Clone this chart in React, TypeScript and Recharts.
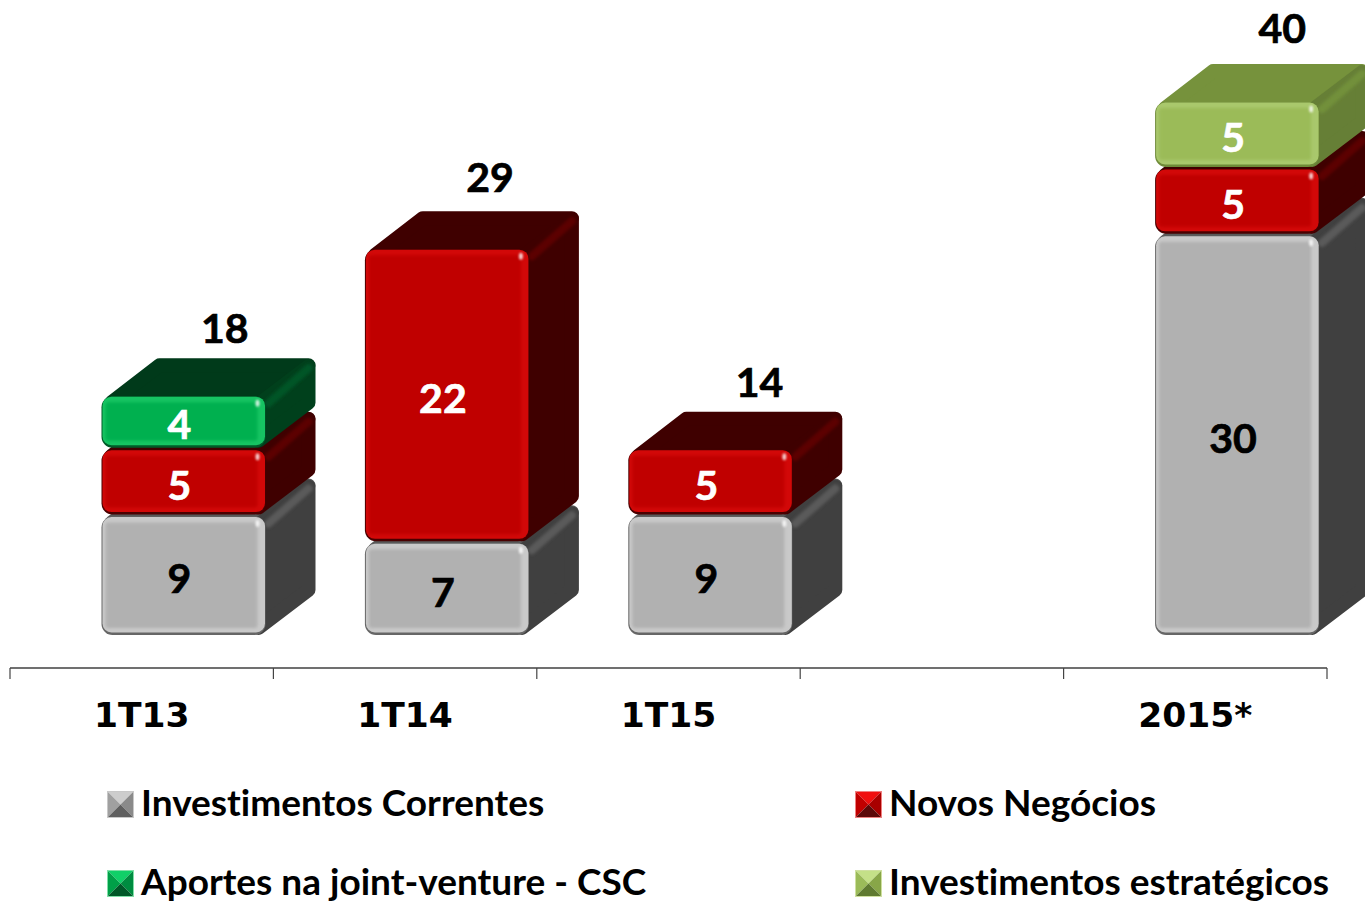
import React from "react";
import { ComposedChart, Bar, Line, XAxis, YAxis, Legend, LabelList } from "recharts";

const categories = ["1T13", "1T14", "1T15", "", "2015*"];
const correntes = [9, 7, 9, null, 30];
const novos = [5, 22, 5, null, 5];
const aportes = [4, null, null, null, null];
const estrategicos = [null, null, null, null, 5];
const totals = [18, 29, 14, null, 40];

const chartData = categories.map((name, i) => ({
  name,
  correntes: correntes[i],
  novos: novos[i],
  aportes: aportes[i],
  estrategicos: estrategicos[i],
  total: totals[i],
}));

const GRAY = { front: "#b1b1b1", light: "#c9c9c9", dark: "#666666", top: "#595959", side: "#404040", sideLight: "#5a5a5a", text: "#000", border: "#c8c8c8", swatch: ["#cdcdcd", "#a0a0a0", "#8a8a8a", "#5f5f5f"] };
const RED = { front: "#c00000", light: "#d20808", dark: "#4a0000", top: "#3f0000", side: "#3f0000", sideLight: "#5c0000", text: "#fff", border: "#f08080", swatch: ["#f01010", "#c00000", "#a80000", "#5c0808"] };
const GREEN = { front: "#00b050", light: "#16c462", dark: "#005a28", top: "#003a1a", side: "#00401c", sideLight: "#005426", text: "#fff", border: "#80e0a8", swatch: ["#10d068", "#00a048", "#008c40", "#005828"] };
const OLIVE = { front: "#9bbb59", light: "#a9c86c", dark: "#6e8a38", top: "#76923c", side: "#667f36", sideLight: "#72903a", text: "#fff", border: "#cfe0a0", swatch: ["#c4e088", "#9bbb59", "#88a648", "#5f7a30"] };

// the boxes sit right of the band centre, depth goes up and to the right
const SHIFT = 41.5;
const DEPTH_X = 50;
const DEPTH_Y = 38;
const LABEL_FONT = "Lato, 'Open Sans', sans-serif";
const TICK_FONT = "'DejaVu Sans', sans-serif";

const box = (c: typeof GRAY) => (props: any) => {
  const { x, y, width, height } = props;
  if (!height || height <= 0) return null;
  const l = x + SHIFT;
  const r = l + width;
  const t = y + 1;
  const b = y + height - 1;
  return (
    <g>
      <polygon
        points={`${l + 10},${t + 6} ${l + DEPTH_X + 8},${t - DEPTH_Y + 7} ${r + DEPTH_X - 7},${t - DEPTH_Y + 7} ${r - 4},${t + 6}`}
        fill={c.top}
        stroke={c.top}
        strokeWidth={14}
        strokeLinejoin="round"
      />
      <polygon
        points={`${r - 7},${t + 8} ${r + DEPTH_X - 7},${t - DEPTH_Y + 8} ${r + DEPTH_X - 7},${b - DEPTH_Y - 7} ${r - 7},${b - 7}`}
        fill={c.side}
        stroke={c.side}
        strokeWidth={14}
        strokeLinejoin="round"
      />
      <line
        x1={r + 3}
        y1={t + 7}
        x2={r + DEPTH_X - 7}
        y2={t - DEPTH_Y + 10}
        stroke={c.sideLight}
        strokeWidth={8}
        strokeLinecap="round"
        filter="url(#soft)"
      />
      <rect x={l} y={t} width={width} height={b - t} rx={11} fill={c.dark} />
      <rect x={l + 1} y={t + 0.5} width={width - 1.5} height={b - t - 3} rx={9} fill={c.light} />
      <rect x={l + 4} y={t + 6} width={width - 12} height={b - t - 13} rx={3} fill={c.front} filter="url(#soft)" />
      <ellipse cx={r - 8} cy={t + 7} rx={2} ry={3.5} fill="#fff" opacity={0.8} filter="url(#softer)" />
    </g>
  );
};

const valueLabel = (c: typeof GRAY) => (props: any) => {
  const { x, y, width, height, value } = props;
  if (value === null || value === undefined) return null;
  return (
    <text
      x={x + width / 2 + SHIFT - 4}
      y={y + height / 2 + 2}
      textAnchor="middle"
      dominantBaseline="central"
      fontFamily={LABEL_FONT}
      fontWeight={700}
      fontSize={41}
      fill={c.text}
      stroke={c.text}
      strokeWidth={0.7}
    >
      {value}
    </text>
  );
};

// the totals float a little unevenly over the boxes
const totalNudge: Record<number, [number, number]> = {
  18: [83, -68],
  29: [85, -72],
  14: [91, -67],
  40: [87, -74],
};

const TotalLabel = (props: any) => {
  const { x, y, value } = props;
  if (value === null || value === undefined) return null;
  const [dx, dy] = totalNudge[value] || [87, -68];
  return (
    <text
      x={x + dx}
      y={y + dy}
      textAnchor="middle"
      dominantBaseline="central"
      fontFamily={LABEL_FONT}
      fontWeight={700}
      fontSize={41}
      fill="#000"
      stroke="#000"
      strokeWidth={0.7}
    >
      {value}
    </text>
  );
};

const BAND = 263.4;

const BoundaryTick = (props: any) => {
  const { x, payload, index } = props;
  const left = x - BAND / 2;
  return (
    <g>
      <line x1={left} y1={668} x2={left} y2={679} stroke="#444" strokeWidth={1.2} />
      {index === categories.length - 1 && (
        <line x1={left + BAND} y1={668} x2={left + BAND} y2={679} stroke="#444" strokeWidth={1.2} />
      )}
      <text
        x={x}
        y={715}
        textAnchor="middle"
        dominantBaseline="central"
        fontFamily={TICK_FONT}
        fontWeight={700}
        fontSize={34.5}
        fill="#000"
      >
        {payload.value}
      </text>
    </g>
  );
};

const Swatch = ({ c }: { c: typeof GRAY }) => (
  <svg width={27} height={27} style={{ position: "absolute", left: 0, top: 0 }}>
    <polygon points="1,1 26,1 13.5,13.5" fill={c.swatch[0]} />
    <polygon points="1,1 1,26 13.5,13.5" fill={c.swatch[1]} />
    <polygon points="26,1 26,26 13.5,13.5" fill={c.swatch[2]} />
    <polygon points="1,26 26,26 13.5,13.5" fill={c.swatch[3]} />
    <rect x={0.5} y={0.5} width={26} height={26} fill="none" stroke={c.border} strokeWidth={1} />
  </svg>
);

const legendSpots: Record<string, { left: number; top: number; c: typeof GRAY }> = {
  "Investimentos Correntes": { left: 107, top: 791, c: GRAY },
  "Novos Negócios": { left: 855, top: 791, c: RED },
  "Aportes na joint-venture - CSC": { left: 107, top: 870, c: GREEN },
  "Investimentos estratégicos": { left: 855, top: 870, c: OLIVE },
};

const GridLegend = ({ payload }: any) => (
  <div style={{ position: "relative", width: 0, height: 0 }}>
    {(payload || [])
      .filter((item: any) => legendSpots[item.value])
      .map((item: any) => {
        const spot = legendSpots[item.value];
        return (
          <div key={item.value} style={{ position: "absolute", left: spot.left, top: spot.top }}>
            <Swatch c={spot.c} />
            <span
              style={{
                position: "absolute",
                left: 34,
                top: -10,
                lineHeight: "42px",
                whiteSpace: "nowrap",
                fontFamily: LABEL_FONT,
                fontVariantLigatures: "none",
                fontWeight: 700,
                fontSize: 37,
                color: "#000",
              }}
            >
              {item.value}
            </span>
          </div>
        );
      })}
  </div>
);

export default function App() {
  return (
    <div style={{ position: "absolute", left: 0, top: 0, width: 1365, height: 904, overflow: "hidden", background: "#fff" }}>
      <ComposedChart
        width={1365}
        height={904}
        data={chartData}
        margin={{ top: 0, right: 38, bottom: 176, left: 10 }}
        barSize={164}
      >
        <defs>
          <filter id="soft" x="-20%" y="-20%" width="140%" height="140%">
            <feGaussianBlur stdDeviation="1.6" />
          </filter>
          <filter id="softer" x="-100%" y="-100%" width="300%" height="300%">
            <feGaussianBlur stdDeviation="0.8" />
          </filter>
        </defs>
        <XAxis
          dataKey="name"
          height={60}
          interval={0}
          tickLine={false}
          axisLine={{ stroke: "#404040", strokeWidth: 1.5 }}
          tick={<BoundaryTick />}
        />
        <YAxis hide domain={[-2.4, 47.56]} allowDataOverflow />
        <Legend
          content={<GridLegend />}
          wrapperStyle={{ left: 0, top: 0, width: 0, height: 0 }}
        />
        <Bar dataKey="correntes" name="Investimentos Correntes" stackId="a" fill={GRAY.front} shape={box(GRAY)} isAnimationActive={false}>
          <LabelList dataKey="correntes" content={valueLabel(GRAY)} />
        </Bar>
        <Bar dataKey="novos" name="Novos Negócios" stackId="a" fill={RED.front} shape={box(RED)} isAnimationActive={false}>
          <LabelList dataKey="novos" content={valueLabel(RED)} />
        </Bar>
        <Bar dataKey="aportes" name="Aportes na joint-venture - CSC" stackId="a" fill={GREEN.front} shape={box(GREEN)} isAnimationActive={false}>
          <LabelList dataKey="aportes" content={valueLabel(GREEN)} />
        </Bar>
        <Bar dataKey="estrategicos" name="Investimentos estratégicos" stackId="a" fill={OLIVE.front} shape={box(OLIVE)} isAnimationActive={false}>
          <LabelList dataKey="estrategicos" content={valueLabel(OLIVE)} />
        </Bar>
        <Line
          dataKey="total"
          stroke="none"
          dot={false}
          activeDot={false}
          legendType="none"
          isAnimationActive={false}
        >
          <LabelList dataKey="total" content={<TotalLabel />} />
        </Line>
      </ComposedChart>
    </div>
  );
}
